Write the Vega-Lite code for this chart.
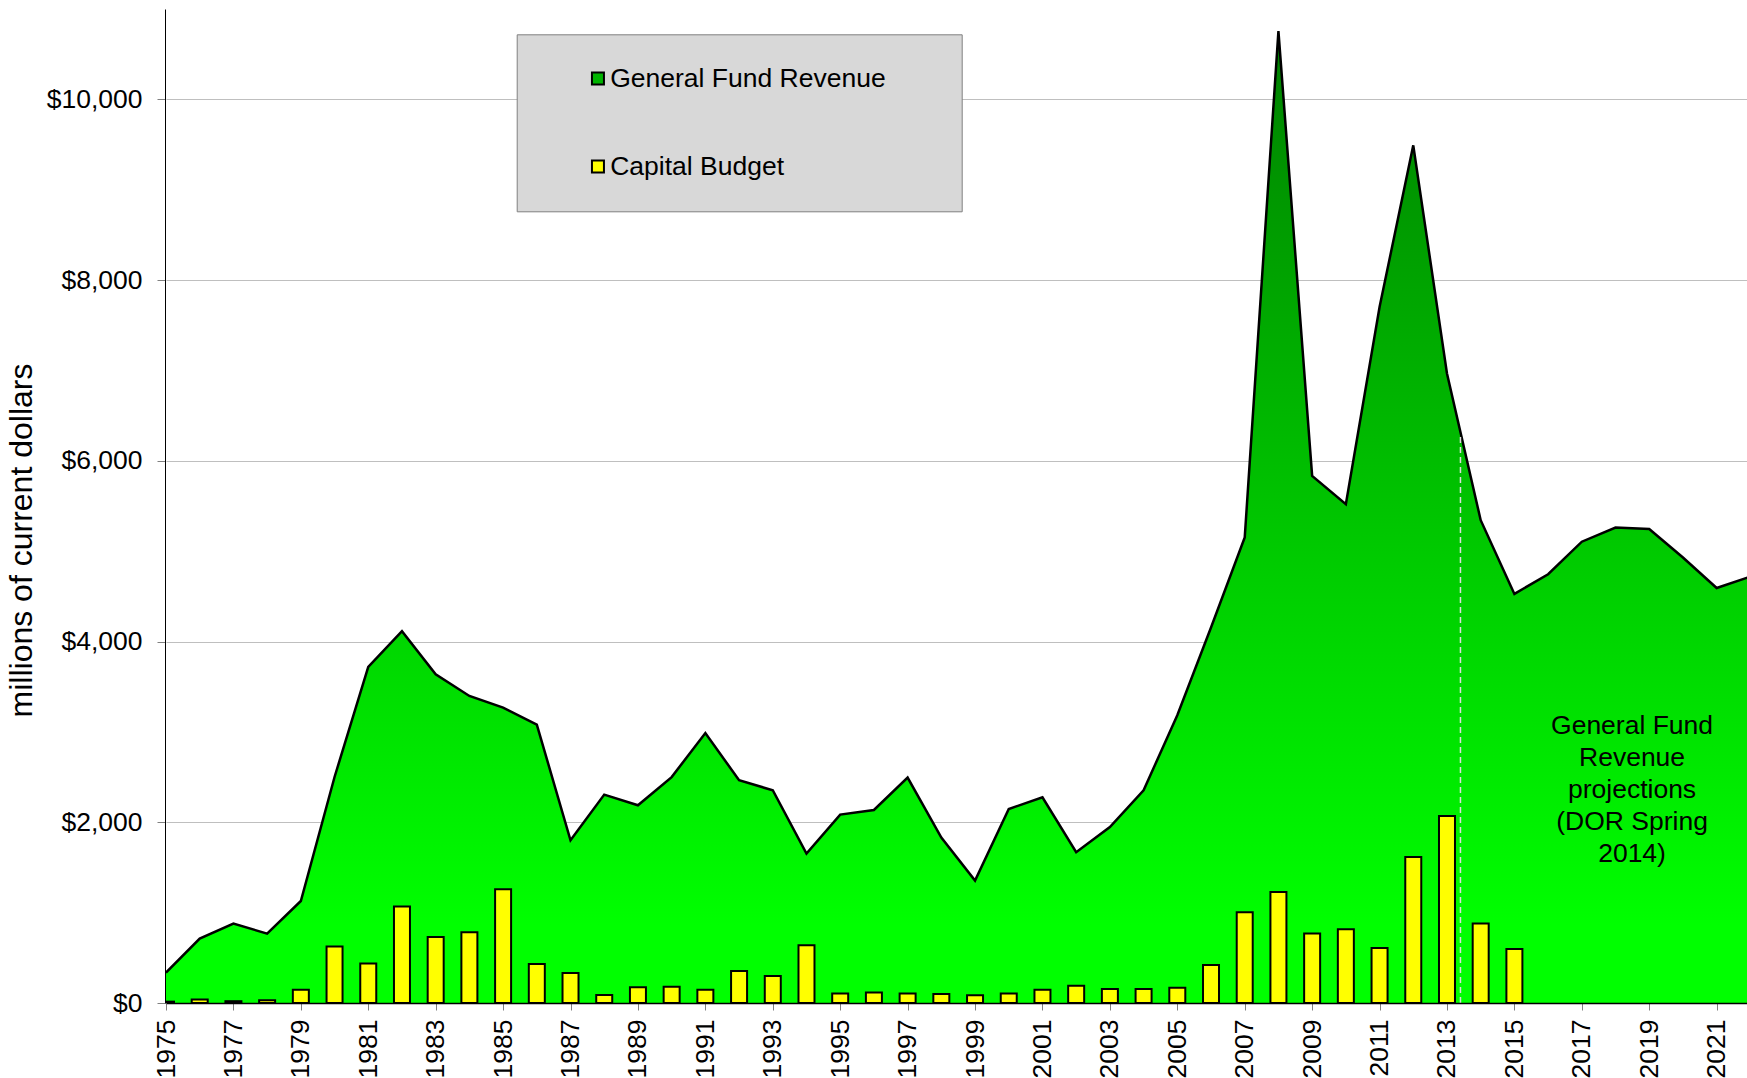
{
  "$schema": "https://vega.github.io/schema/vega-lite/v6.json",
  "autosize": {"type": "none"},
  "padding": {"left": 166, "top": 9, "right": 0, "bottom": 75},
  "width": 1581,
  "height": 994,
  "background": "white",
  "config": {
    "font": "Liberation Sans",
    "view": {"stroke": null}
  },
  "data": {
    "values": [
      {"year": 1975, "series": "General Fund Revenue", "value": 336},
      {"year": 1976, "series": "General Fund Revenue", "value": 713},
      {"year": 1977, "series": "General Fund Revenue", "value": 879},
      {"year": 1978, "series": "General Fund Revenue", "value": 768},
      {"year": 1979, "series": "General Fund Revenue", "value": 1129},
      {"year": 1980, "series": "General Fund Revenue", "value": 2501},
      {"year": 1981, "series": "General Fund Revenue", "value": 3719},
      {"year": 1982, "series": "General Fund Revenue", "value": 4114},
      {"year": 1983, "series": "General Fund Revenue", "value": 3638},
      {"year": 1984, "series": "General Fund Revenue", "value": 3398},
      {"year": 1985, "series": "General Fund Revenue", "value": 3269},
      {"year": 1986, "series": "General Fund Revenue", "value": 3081},
      {"year": 1987, "series": "General Fund Revenue", "value": 1801},
      {"year": 1988, "series": "General Fund Revenue", "value": 2306},
      {"year": 1989, "series": "General Fund Revenue", "value": 2188},
      {"year": 1990, "series": "General Fund Revenue", "value": 2500},
      {"year": 1991, "series": "General Fund Revenue", "value": 2988},
      {"year": 1992, "series": "General Fund Revenue", "value": 2465},
      {"year": 1993, "series": "General Fund Revenue", "value": 2354},
      {"year": 1994, "series": "General Fund Revenue", "value": 1653},
      {"year": 1995, "series": "General Fund Revenue", "value": 2085},
      {"year": 1996, "series": "General Fund Revenue", "value": 2136},
      {"year": 1997, "series": "General Fund Revenue", "value": 2494},
      {"year": 1998, "series": "General Fund Revenue", "value": 1830},
      {"year": 1999, "series": "General Fund Revenue", "value": 1355},
      {"year": 2000, "series": "General Fund Revenue", "value": 2147},
      {"year": 2001, "series": "General Fund Revenue", "value": 2277},
      {"year": 2002, "series": "General Fund Revenue", "value": 1668},
      {"year": 2003, "series": "General Fund Revenue", "value": 1948},
      {"year": 2004, "series": "General Fund Revenue", "value": 2354},
      {"year": 2005, "series": "General Fund Revenue", "value": 3184},
      {"year": 2006, "series": "General Fund Revenue", "value": 4156},
      {"year": 2007, "series": "General Fund Revenue", "value": 5151},
      {"year": 2008, "series": "General Fund Revenue", "value": 10755},
      {"year": 2009, "series": "General Fund Revenue", "value": 5833},
      {"year": 2010, "series": "General Fund Revenue", "value": 5520},
      {"year": 2011, "series": "General Fund Revenue", "value": 7703},
      {"year": 2012, "series": "General Fund Revenue", "value": 9491},
      {"year": 2013, "series": "General Fund Revenue", "value": 6966},
      {"year": 2014, "series": "General Fund Revenue", "value": 5343},
      {"year": 2015, "series": "General Fund Revenue", "value": 4527},
      {"year": 2016, "series": "General Fund Revenue", "value": 4745},
      {"year": 2017, "series": "General Fund Revenue", "value": 5105},
      {"year": 2018, "series": "General Fund Revenue", "value": 5262},
      {"year": 2019, "series": "General Fund Revenue", "value": 5246},
      {"year": 2020, "series": "General Fund Revenue", "value": 4930},
      {"year": 2021, "series": "General Fund Revenue", "value": 4593},
      {"year": 2022, "series": "General Fund Revenue", "value": 4718},
      {"year": 1975, "series": "Capital Budget", "value": 15},
      {"year": 1976, "series": "Capital Budget", "value": 38},
      {"year": 1977, "series": "Capital Budget", "value": 20},
      {"year": 1978, "series": "Capital Budget", "value": 30},
      {"year": 1979, "series": "Capital Budget", "value": 148},
      {"year": 1980, "series": "Capital Budget", "value": 624},
      {"year": 1981, "series": "Capital Budget", "value": 436},
      {"year": 1982, "series": "Capital Budget", "value": 1067},
      {"year": 1983, "series": "Capital Budget", "value": 731},
      {"year": 1984, "series": "Capital Budget", "value": 782},
      {"year": 1985, "series": "Capital Budget", "value": 1258},
      {"year": 1986, "series": "Capital Budget", "value": 432},
      {"year": 1987, "series": "Capital Budget", "value": 332},
      {"year": 1988, "series": "Capital Budget", "value": 89},
      {"year": 1989, "series": "Capital Budget", "value": 174},
      {"year": 1990, "series": "Capital Budget", "value": 181},
      {"year": 1991, "series": "Capital Budget", "value": 148},
      {"year": 1992, "series": "Capital Budget", "value": 354},
      {"year": 1993, "series": "Capital Budget", "value": 299},
      {"year": 1994, "series": "Capital Budget", "value": 639},
      {"year": 1995, "series": "Capital Budget", "value": 104},
      {"year": 1996, "series": "Capital Budget", "value": 115},
      {"year": 1997, "series": "Capital Budget", "value": 104},
      {"year": 1998, "series": "Capital Budget", "value": 100},
      {"year": 1999, "series": "Capital Budget", "value": 85},
      {"year": 2000, "series": "Capital Budget", "value": 104},
      {"year": 2001, "series": "Capital Budget", "value": 148},
      {"year": 2002, "series": "Capital Budget", "value": 192},
      {"year": 2003, "series": "Capital Budget", "value": 155},
      {"year": 2004, "series": "Capital Budget", "value": 155},
      {"year": 2005, "series": "Capital Budget", "value": 170},
      {"year": 2006, "series": "Capital Budget", "value": 420},
      {"year": 2007, "series": "Capital Budget", "value": 1004},
      {"year": 2008, "series": "Capital Budget", "value": 1229},
      {"year": 2009, "series": "Capital Budget", "value": 768},
      {"year": 2010, "series": "Capital Budget", "value": 816},
      {"year": 2011, "series": "Capital Budget", "value": 609},
      {"year": 2012, "series": "Capital Budget", "value": 1616},
      {"year": 2013, "series": "Capital Budget", "value": 2070},
      {"year": 2014, "series": "Capital Budget", "value": 879},
      {"year": 2015, "series": "Capital Budget", "value": 597}
    ]
  },
  "layer": [
    {
      "transform": [{"filter": "datum.series == 'General Fund Revenue'"}],
      "mark": {
        "type": "area",
        "clip": true,
        "color": {
          "gradient": "linear",
          "x1": 1, "y1": 1, "x2": 1, "y2": 0,
          "stops": [
            {"offset": 0, "color": "#00ff00"},
            {"offset": 0.08, "color": "#00ff00"},
            {"offset": 1, "color": "#008000"}
          ]
        }
      },
      "encoding": {
        "x": {
          "field": "year",
          "type": "quantitative",
          "scale": {"domain": [1975, 2021.9], "nice": false, "zero": false, "padding": 0},
          "axis": {
            "title": null,
            "grid": false,
            "values": [1975,1976,1977,1978,1979,1980,1981,1982,1983,1984,1985,1986,1987,1988,1989,1990,1991,1992,1993,1994,1995,1996,1997,1998,1999,2000,2001,2002,2003,2004,2005,2006,2007,2008,2009,2010,2011,2012,2013,2014,2015,2016,2017,2018,2019,2020,2021],
            "format": "d",
            "labelExpr": "datum.value % 2 == 1 ? datum.label : ''",
            "labelAngle": -90,
            "labelAlign": "right",
            "labelBaseline": "middle",
            "labelFontSize": 26.5,
            "labelColor": "black",
            "labelPadding": 9,
            "labelFlush": false,
            "labelOverlap": false,
            "tickColor": "#808080",
            "tickSize": 7,
            "domainColor": "black",
            "domainWidth": 1.5,
            "zindex": 1
          }
        },
        "y": {
          "field": "value",
          "type": "quantitative",
          "stack": null,
          "scale": {"domain": [0, 11000], "nice": false},
          "axis": {
            "offset": 1,
            "grid": true,
            "gridColor": "#bfbfbf",
            "values": [0, 2000, 4000, 6000, 8000, 10000],
            "format": "$,.0f",
            "labelFontSize": 26.5,
            "labelColor": "black",
            "labelPadding": 15,
            "tickColor": "#808080",
            "tickSize": 8,
            "domainColor": "black",
            "title": "millions of current dollars",
            "titleFontSize": 32,
            "titleFontWeight": "normal",
            "titleColor": "black",
            "titleAngle": 270,
            "titleAlign": "center",
            "titleBaseline": "alphabetic",
            "titleX": -134,
            "titleY": 531
          }
        }
      }
    },
    {
      "transform": [{"filter": "datum.series == 'General Fund Revenue'"}],
      "mark": {"type": "line", "clip": true, "color": "black", "strokeWidth": 2.5},
      "encoding": {
        "x": {"field": "year", "type": "quantitative"},
        "y": {"field": "value", "type": "quantitative", "stack": null}
      }
    },
    {
      "transform": [{"filter": "datum.series == 'Capital Budget'"}],
      "mark": {"type": "bar", "orient": "vertical", "clip": true, "size": 16, "stroke": "black", "strokeWidth": 2},
      "encoding": {
        "x": {"field": "year", "type": "quantitative"},
        "y": {"field": "value", "type": "quantitative", "stack": null},
        "color": {
          "field": "series",
          "type": "nominal",
          "scale": {"domain": ["General Fund Revenue", "Capital Budget"], "range": ["#00b400", "#ffff00"]},
          "legend": {
            "orient": "none",
            "legendX": 350.7,
            "legendY": 25.3,
            "title": "\u2800",
            "titleOrient": "right",
            "titleFontSize": 40,
            "titlePadding": 16,
            "titleColor": "transparent",
            "padding": 31,
            "rowPadding": 61,
            "symbolType": "square",
            "symbolSize": 144,
            "symbolStrokeColor": "black",
            "symbolStrokeWidth": 2,
            "symbolOffset": 37,
            "labelOffset": -1,
            "labelFontSize": 26.5,
            "labelColor": "black",
            "labelLimit": 0,
            "fillColor": "#d8d8d8",
            "strokeColor": "#808080"
          }
        }
      }
    },
    {
      "data": {"values": [{"year": 2013.4, "value": 0, "top": 6300}]},
      "mark": {"type": "rule", "color": "#dcdcdc", "strokeWidth": 1.5, "strokeDash": [6, 4]},
      "encoding": {
        "x": {"field": "year", "type": "quantitative"},
        "y": {"field": "value", "type": "quantitative"},
        "y2": {"field": "top"}
      }
    },
    {
      "data": {"values": [{"year": 2018.49, "value": 3206, "label": "General Fund\nRevenue\nprojections\n(DOR Spring\n2014)"}]},
      "mark": {"type": "text", "align": "center", "baseline": "top", "lineBreak": "\n", "fontSize": 26.5, "lineHeight": 32, "color": "black"},
      "encoding": {
        "x": {"field": "year", "type": "quantitative"},
        "y": {"field": "value", "type": "quantitative"},
        "text": {"field": "label"}
      }
    }
  ]
}
